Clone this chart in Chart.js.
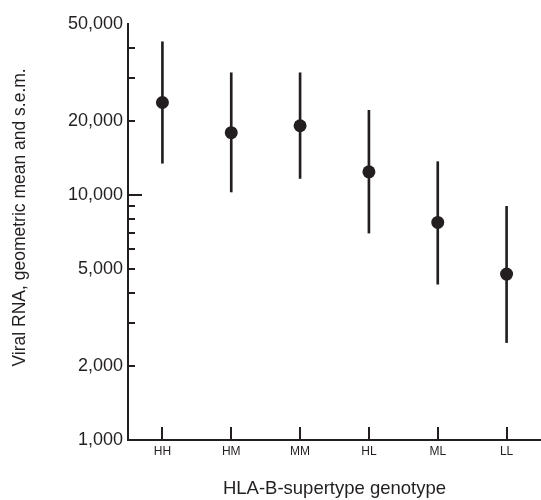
<!DOCTYPE html>
<html>
<head>
<meta charset="utf-8">
<script src="https://cdn.jsdelivr.net/npm/chart.js@4"></script>
<style>
  body { margin: 0; background: #fff; }
  #wrap { width: 541px; height: 500px; position: relative; }
</style>
</head>
<body>
<div id="wrap"><canvas id="chart"></canvas></div>
<script>
const categories = ["HH", "HM", "MM", "HL", "ML", "LL"];
const geoMean = [23900, 18000, 19200, 12450, 7740, 4760];
const semUpper = [42300, 31600, 31600, 22200, 13700, 9000];
const semLower = [13500, 10300, 11700, 7000, 4330, 2500];
const yLabelTicks = [1000, 2000, 5000, 10000, 20000, 50000];
const yMinorTicks = [3000, 4000, 6000, 7000, 8000, 9000, 30000, 40000];

const ink = "#231f20";
const font = "'Liberation Sans', Arial, sans-serif";

// tick marks point into the plot, so draw them ourselves from the scales
const inwardTicks = {
  id: "inwardTicks",
  afterDraw(chart) {
    const ctx = chart.ctx;
    const area = chart.chartArea;
    const y = chart.scales.y;
    const x = chart.scales.x;
    ctx.save();
    ctx.strokeStyle = ink;
    ctx.lineWidth = 2;
    ctx.beginPath();
    yLabelTicks.concat(yMinorTicks).forEach((v) => {
      if (v >= 50000) return;
      const py = Math.round(y.getPixelForValue(v));
      const len = v === 10000 ? 14 : 7;
      ctx.moveTo(area.left, py);
      ctx.lineTo(area.left + len, py);
    });
    categories.forEach((c, i) => {
      const px = Math.round(x.getPixelForTick(i));
      ctx.moveTo(px, area.bottom);
      ctx.lineTo(px, area.bottom - 13);
    });
    ctx.stroke();
    ctx.restore();
  },
};

const ctx = document.getElementById("chart").getContext("2d");
const chart = new Chart(ctx, {
  type: "bar",
  data: {
    labels: categories,
    datasets: [
      {
        type: "line",
        label: "Geometric mean",
        data: geoMean,
        showLine: false,
        pointRadius: 6.5,
        pointHoverRadius: 6.5,
        pointBackgroundColor: ink,
        pointBorderColor: ink,
        pointBorderWidth: 0,
        clip: false,
        order: 0,
      },
      {
        label: "s.e.m.",
        data: categories.map((c, i) => [semLower[i], semUpper[i]]),
        backgroundColor: ink,
        barThickness: 2,
        order: 1,
      },
    ],
  },
  plugins: [inwardTicks],
  options: {
    responsive: true,
    maintainAspectRatio: false,
    animation: false,
    layout: { autoPadding: false, padding: { top: 24, right: 0, left: 0, bottom: 0 } },
    plugins: {
      legend: { display: false },
      tooltip: { enabled: false },
    },
    scales: {
      x: {
        offset: true,
        grid: { display: false, drawTicks: false },
        border: { display: true, color: ink, width: 2 },
        ticks: { color: ink, padding: 4, font: { family: font, size: 12 } },
        title: {
          display: true,
          text: "HLA-B-supertype genotype",
          color: ink,
          padding: { top: 0, bottom: 0 },
          font: { family: font, size: 18.5 },
        },
        afterFit(scale) {
          scale.height = 60;
        },
      },
      y: {
        type: "logarithmic",
        min: 1000,
        max: 50000,
        grid: { display: false, drawTicks: false },
        border: { display: true, color: ink, width: 2 },
        afterBuildTicks(scale) {
          scale.ticks = yLabelTicks.concat(yMinorTicks)
            .sort((a, b) => a - b)
            .map((v) => ({ value: v }));
        },
        ticks: {
          color: ink,
          padding: 5,
          autoSkip: false,
          font: { family: font, size: 18 },
          callback: (v) => (yLabelTicks.includes(v) ? v.toLocaleString("en-US") : ""),
        },
        title: {
          display: true,
          // leading spaces nudge the rotated title a little above centre, as in the figure
          text: "      Viral RNA, geometric mean and s.e.m.",
          color: ink,
          padding: { top: 10, bottom: 0 },
          font: { family: font, size: 17.5 },
        },
        afterFit(scale) {
          scale.width = 128;
        },
      },
    },
  },
});
</script>
</body>
</html>
